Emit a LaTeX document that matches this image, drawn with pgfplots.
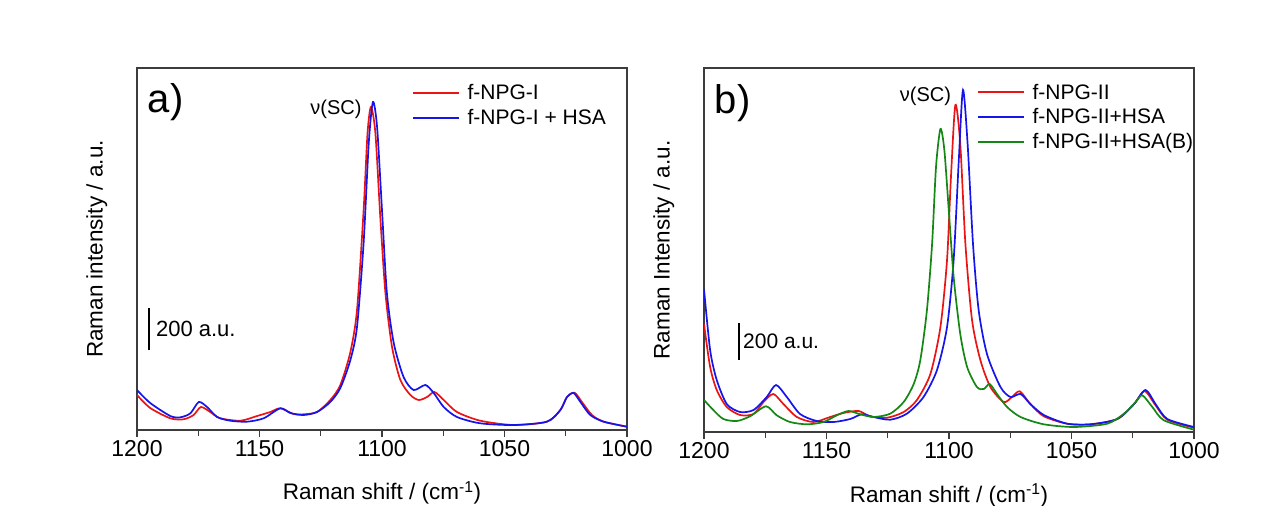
\documentclass[border=0pt]{standalone}
\usepackage{pgfplots}
\pgfplotsset{compat=1.18}
\usepackage{fontspec}
\setmainfont{Liberation Sans}
\definecolor{cred}{RGB}{235,20,20}
\definecolor{cblue}{RGB}{20,20,235}
\definecolor{cgreen}{RGB}{20,135,20}
\definecolor{caxis}{RGB}{60,60,60}
\pgfplotsset{
  myaxis/.style={
    anchor=south west, scale only axis, width=490bp,
    x dir=reverse, xmin=1000, xmax=1200,
    xtick={1000,1050,1100,1150,1200}, minor x tick num=1,
    tick pos=bottom, tick align=outside,
    major tick length=7bp, minor tick length=6bp,
    ytick=\empty,
    axis line style={caxis, line width=1.4bp},
    every tick/.style={caxis, line width=1.2bp},
    /pgf/number format/assume math mode=true,
    /pgf/number format/1000 sep={},
    ticklabel style={font=\fontsize{23bp}{26bp}\selectfont},
    label style={font=\fontsize{22.5bp}{26bp}\selectfont},
    xlabel={Raman shift / (cm\textsuperscript{-1})},
    xlabel style={at={(axis description cs:0.5,-0.174)}, anchor=center},
    ylabel style={at={(axis description cs:-0.082,0.5)}, anchor=center},
    legend style={draw=none, fill=none, font=\fontsize{21bp}{24bp}\selectfont,
      legend cell align=left, row sep=4bp, inner sep=0pt,
      /tikz/every odd column/.append style={column sep=6bp}},
    legend image code/.code={\draw[##1, line width=2bp] (0bp,0bp) -- (46bp,0bp);},
    every axis plot/.append style={line width=1.7bp, smooth, tension=0.45},
    clip=true,
  }
}
\begin{document}
\begin{tikzpicture}
\useasboundingbox (0bp,0bp) rectangle (1282bp,506bp);
\begin{axis}[myaxis, at={(137bp,76bp)}, height=362bp, ymin=0, ymax=362,
  ylabel={Raman intensity / a.u.},
  legend style={at={(axis description cs:0.56,0.96)}, anchor=north west}]
\addplot[cred] coordinates {(1200,35)(1194.6,22)(1186.4,11.7)(1181.0,10.7)(1176.9,15)(1173.9,23)(1170.1,18)(1166.0,11.7)(1157.8,9.3)(1151.0,14)(1145.6,18)(1141.5,21.7)(1136.1,16)(1132.0,15.7)(1126.5,18)(1121.1,30)(1117.0,45)(1112.9,78)(1110.2,120)(1107.5,220)(1105.9,297)(1104.5,323)(1102.7,297)(1100.7,213)(1098.6,137)(1095.9,83)(1092.5,50)(1088.4,35)(1085.0,30)(1081.6,33)(1078.6,38)(1074.8,30)(1069.4,18)(1059.9,9.3)(1046.3,5)(1032.7,8.3)(1027.2,20)(1024.5,33)(1021.4,37.3)(1018.4,28)(1014.3,15)(1009.5,8.3)(1000,3.3)};
\addlegendentry{f-NPG-I}
\addplot[cblue] coordinates {(1200,40)(1194.6,27)(1186.4,14)(1182.3,12.7)(1178.2,16.7)(1174.8,28)(1171.4,23)(1167.3,13)(1161.9,9.3)(1155.1,8.3)(1148.3,11.7)(1141.5,21.7)(1137.4,17)(1132.0,15)(1126.5,18)(1121.1,28)(1117.0,42)(1112.9,70)(1110.2,103)(1107.5,187)(1105.4,287)(1103.7,328)(1102.0,303)(1100.0,220)(1098.0,137)(1095.2,87)(1091.2,53)(1087.1,40)(1082.3,45)(1078.9,37)(1074.8,23)(1069.4,13)(1059.9,6.7)(1046.3,5)(1032.7,8.3)(1027.2,20)(1024.5,33)(1021.8,37)(1019.0,28)(1015.0,15)(1009.5,8.3)(1000,3.3)};
\addlegendentry{f-NPG-I + HSA}
\node[anchor=base west, font=\fontsize{40bp}{44bp}\selectfont] at (axis description cs:0.015,0.876) {a)};
\node[anchor=base, font=\fontsize{20bp}{24bp}\selectfont] at (axis cs:1118.8,315) {ν(SC)};
\draw[black, line width=2bp] (axis cs:1195.1,80) -- (axis cs:1195.1,122);
\node[anchor=west, inner sep=0pt, font=\fontsize{22bp}{26bp}\selectfont] at (axis cs:1192.3,101) {200 a.u.};
\end{axis}
\begin{axis}[myaxis, at={(704bp,74bp)}, height=364bp, ymin=0, ymax=364,
  ylabel={Raman Intensity / a.u.},
  legend style={at={(axis description cs:0.556,0.962)}, anchor=north west}]
\addplot[cred] coordinates {(1200,108)(1197.5,65)(1194.8,42)(1190.7,25)(1185.3,17)(1179.8,18)(1175.7,30)(1171.7,38)(1167.6,28)(1162.1,15)(1155.3,10)(1148.5,15)(1143.1,19)(1136.9,21)(1132.2,15.7)(1125.3,14.3)(1118.5,20)(1113.1,32)(1107.6,58)(1103.5,105)(1100.8,172)(1099.2,255)(1097.4,327)(1095.4,288)(1093.3,188)(1090.6,112)(1087.2,72)(1083.1,45)(1077.7,30)(1074.3,35)(1071.1,40.7)(1066.8,28)(1061.3,15.7)(1051.8,8.3)(1042.2,7.7)(1031.3,13)(1024.5,27.7)(1020.2,41)(1015.7,26.7)(1010.9,12.3)(1000,4.3)};
\addlegendentry{f-NPG-II}
\addplot[cblue] coordinates {(1200,143)(1197.5,82)(1194.8,52)(1190.7,28)(1185.3,20)(1179.8,22)(1174.4,35)(1170.6,47)(1166.2,35)(1160.8,18)(1154.0,11)(1147.1,10)(1140.3,13)(1135.6,17.7)(1130.8,15)(1124.0,12.3)(1117.2,18.3)(1110.4,35)(1104.9,62)(1100.8,105)(1098.1,172)(1096.0,272)(1094.3,342)(1092.4,288)(1090.2,188)(1087.9,122)(1084.5,78)(1079.0,45)(1074.9,35)(1070.8,38)(1066.8,28)(1061.3,17)(1051.8,8.3)(1042.2,7.7)(1031.3,13)(1024.5,28)(1019.8,42)(1015.7,28)(1010.9,13)(1000,5)};
\addlegendentry{f-NPG-II+HSA}
\addplot[cgreen] coordinates {(1200,32)(1196.2,22)(1192.1,13)(1186.6,11)(1181.2,15.7)(1174.7,25.7)(1170.3,16.7)(1164.9,10)(1158.0,7.7)(1151.2,10)(1145.8,16.7)(1141.0,21)(1136.2,17.7)(1130.8,15)(1124.0,18.3)(1118.5,30)(1114.4,48)(1111.7,72)(1109.0,122)(1106.9,188)(1105.3,265)(1103.5,303)(1101.9,282)(1100.1,222)(1098.1,155)(1095.4,98)(1092.6,65)(1088.6,45)(1085.8,43)(1083.4,48)(1080.4,38)(1076.3,25)(1070.8,15)(1061.3,7.7)(1049.0,5)(1035.4,8.3)(1028.6,18.3)(1023.8,30)(1021.1,36.7)(1017.0,25)(1012.3,11.7)(1000,2.3)};
\addlegendentry{f-NPG-II+HSA(B)}
\node[anchor=base west, font=\fontsize{40bp}{44bp}\selectfont] at (axis description cs:0.015,0.876) {b)};
\node[anchor=base, font=\fontsize{20bp}{24bp}\selectfont] at (axis cs:1109.6,330) {ν(SC)};
\draw[black, line width=2bp] (axis cs:1185.7,72) -- (axis cs:1185.7,109);
\node[anchor=west, inner sep=0pt, font=\fontsize{21bp}{25bp}\selectfont] at (axis cs:1184.1,91) {200 a.u.};
\end{axis}
\end{tikzpicture}
\end{document}
